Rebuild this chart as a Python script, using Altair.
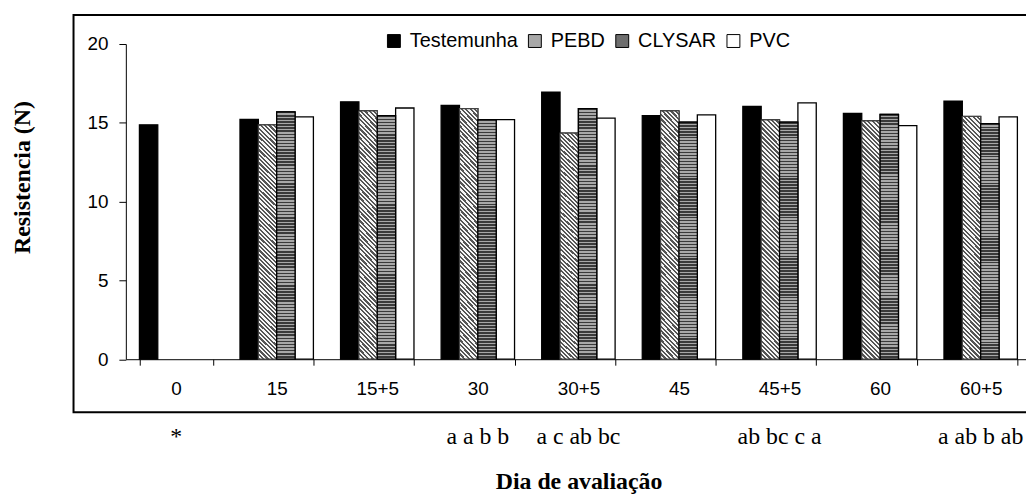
import altair as alt
import pandas as pd

days = ["0", "15", "15+5", "30", "30+5", "45", "45+5", "60", "60+5"]
series = ["Testemunha", "PEBD", "CLYSAR", "PVC"]
testemunha = [14.87, 15.22, 16.33, 16.1, 16.95, 15.45, 16.04, 15.6, 16.38]
pebd = [None, 14.87, 15.75, 15.9, 14.35, 15.75, 15.18, 15.12, 15.4]
clysar = [None, 15.69, 15.45, 15.2, 15.9, 15.04, 15.04, 15.54, 14.95]
pvc = [None, 15.37, 15.94, 15.2, 15.3, 15.5, 16.27, 14.82, 15.37]
letters = ["*", "", "", "a a b b", "a c ab bc", "", "ab bc c a", "", "a ab b ab"]

rows = []
for s, vals in zip(series, [testemunha, pebd, clysar, pvc]):
    for d, v in zip(days, vals):
        if v is not None:
            rows.append({"day": d, "series": s, "value": v})
df = pd.DataFrame(rows)
df_letters = pd.DataFrame({"day": days, "letter": letters})
df_letters = df_letters[df_letters["letter"] != ""]


def stripes(c1, c2, n, x1, y1, x2, y2):
    stops = []
    for i in range(n):
        a = round(i / n, 5)
        b = round((i + 0.5) / n, 5)
        c = round((i + 1) / n, 5)
        stops += [
            {"offset": a, "color": c1},
            {"offset": b, "color": c1},
            {"offset": b, "color": c2},
            {"offset": c, "color": c2},
        ]
    return {"gradient": "linear", "x1": x1, "y1": y1, "x2": x2, "y2": y2, "stops": stops}


grad_pebd = stripes("#555555", "#f6f6f6", 58, 0, 1, 0.0824, -0.07)
grad_clysar = stripes("#3a3a3a", "#a8a8a8", 80, 0, 0, 0, 1)

W = 911.7
H = 317.5

x_enc = alt.X(
    "day:N",
    sort=days,
    scale=alt.Scale(domain=days, paddingInner=0.27, paddingOuter=0.135),
    title="Dia de avaliação",
    axis=alt.Axis(
        labelAngle=0,
        labelFont="Liberation Sans",
        labelFontSize=19,
        labelColor="black",
        labelPadding=15,
        tickBand="extent",
        tickSize=6,
        tickColor="black",
        domainColor="black",
        titleFont="Liberation Serif",
        titleFontSize=24,
        titleFontWeight="bold",
        titleColor="black",
        titleX=456,
        titleY=123,
        titleBaseline="middle",
        titleAlign="center",
    ),
)
y_enc = alt.Y(
    "value:Q",
    scale=alt.Scale(domain=[0, 20]),
    title="Resistencia (N)",
    axis=alt.Axis(
        values=[0, 5, 10, 15, 20],
        grid=False,
        labelFont="Liberation Sans",
        labelFontSize=19,
        labelColor="black",
        labelPadding=11,
        tickSize=7,
        tickColor="black",
        domainColor="black",
        titleFont="Liberation Serif",
        titleFontSize=24,
        titleFontWeight="bold",
        titleColor="black",
        titleAngle=270,
        titleX=-104,
        titleY=134,
        titleAlign="center",
        titleBaseline="middle",
    ),
)
xo_enc = alt.XOffset("series:N", sort=series, scale=alt.Scale(domain=series))

frame = alt.Chart(pd.DataFrame({"f": [0]})).mark_rect(
    filled=False, stroke="black", strokeWidth=2
).encode(
    x=alt.value(-52.7), x2=alt.value(940), y=alt.value(-29.2), y2=alt.value(371)
)

bars = alt.Chart(df).mark_bar(stroke="black", strokeWidth=1.3).encode(
    x=x_enc,
    xOffset=xo_enc,
    y=y_enc,
    color=alt.Color(
        "series:N",
        scale=alt.Scale(domain=series, range=["black", "#a8a8a8", "#6e6e6e", "white"]),
        legend=alt.Legend(
            title=None,
            orient="none",
            legendX=260,
            legendY=-13,
            direction="horizontal",
            symbolType="square",
            symbolSize=169,
            symbolStrokeColor="black",
            symbolStrokeWidth=1,
            symbolOpacity=1,
            labelFont="Liberation Sans",
            labelFontSize=20,
            labelColor="black",
            labelOffset=6,
            columnPadding=7,
        ),
    ),
)

over_pebd = alt.Chart(df).transform_filter(alt.datum.series == "PEBD").mark_bar(
    fill=grad_pebd, stroke="#444444", strokeWidth=1.2
).encode(x=x_enc, xOffset=xo_enc, y=y_enc)

over_clysar = alt.Chart(df).transform_filter(alt.datum.series == "CLYSAR").mark_bar(
    fill=grad_clysar, stroke="black", strokeWidth=1.3
).encode(x=x_enc, xOffset=xo_enc, y=y_enc)

text_layer = alt.Chart(df_letters).mark_text(
    font="Liberation Serif", fontSize=24, baseline="middle", align="center", color="black"
).encode(x=x_enc, y=alt.value(395.5), text="letter:N")

chart = alt.layer(frame, bars, over_pebd, over_clysar, text_layer).properties(
    width=W,
    height=H,
    autosize=alt.AutoSizeParams(type="none"),
    padding={"left": 118.7, "top": 34.5, "right": -5, "bottom": 135},
).configure_view(strokeWidth=0)

chart.save("out.html", embed_options={"renderer": "svg", "actions": False})
